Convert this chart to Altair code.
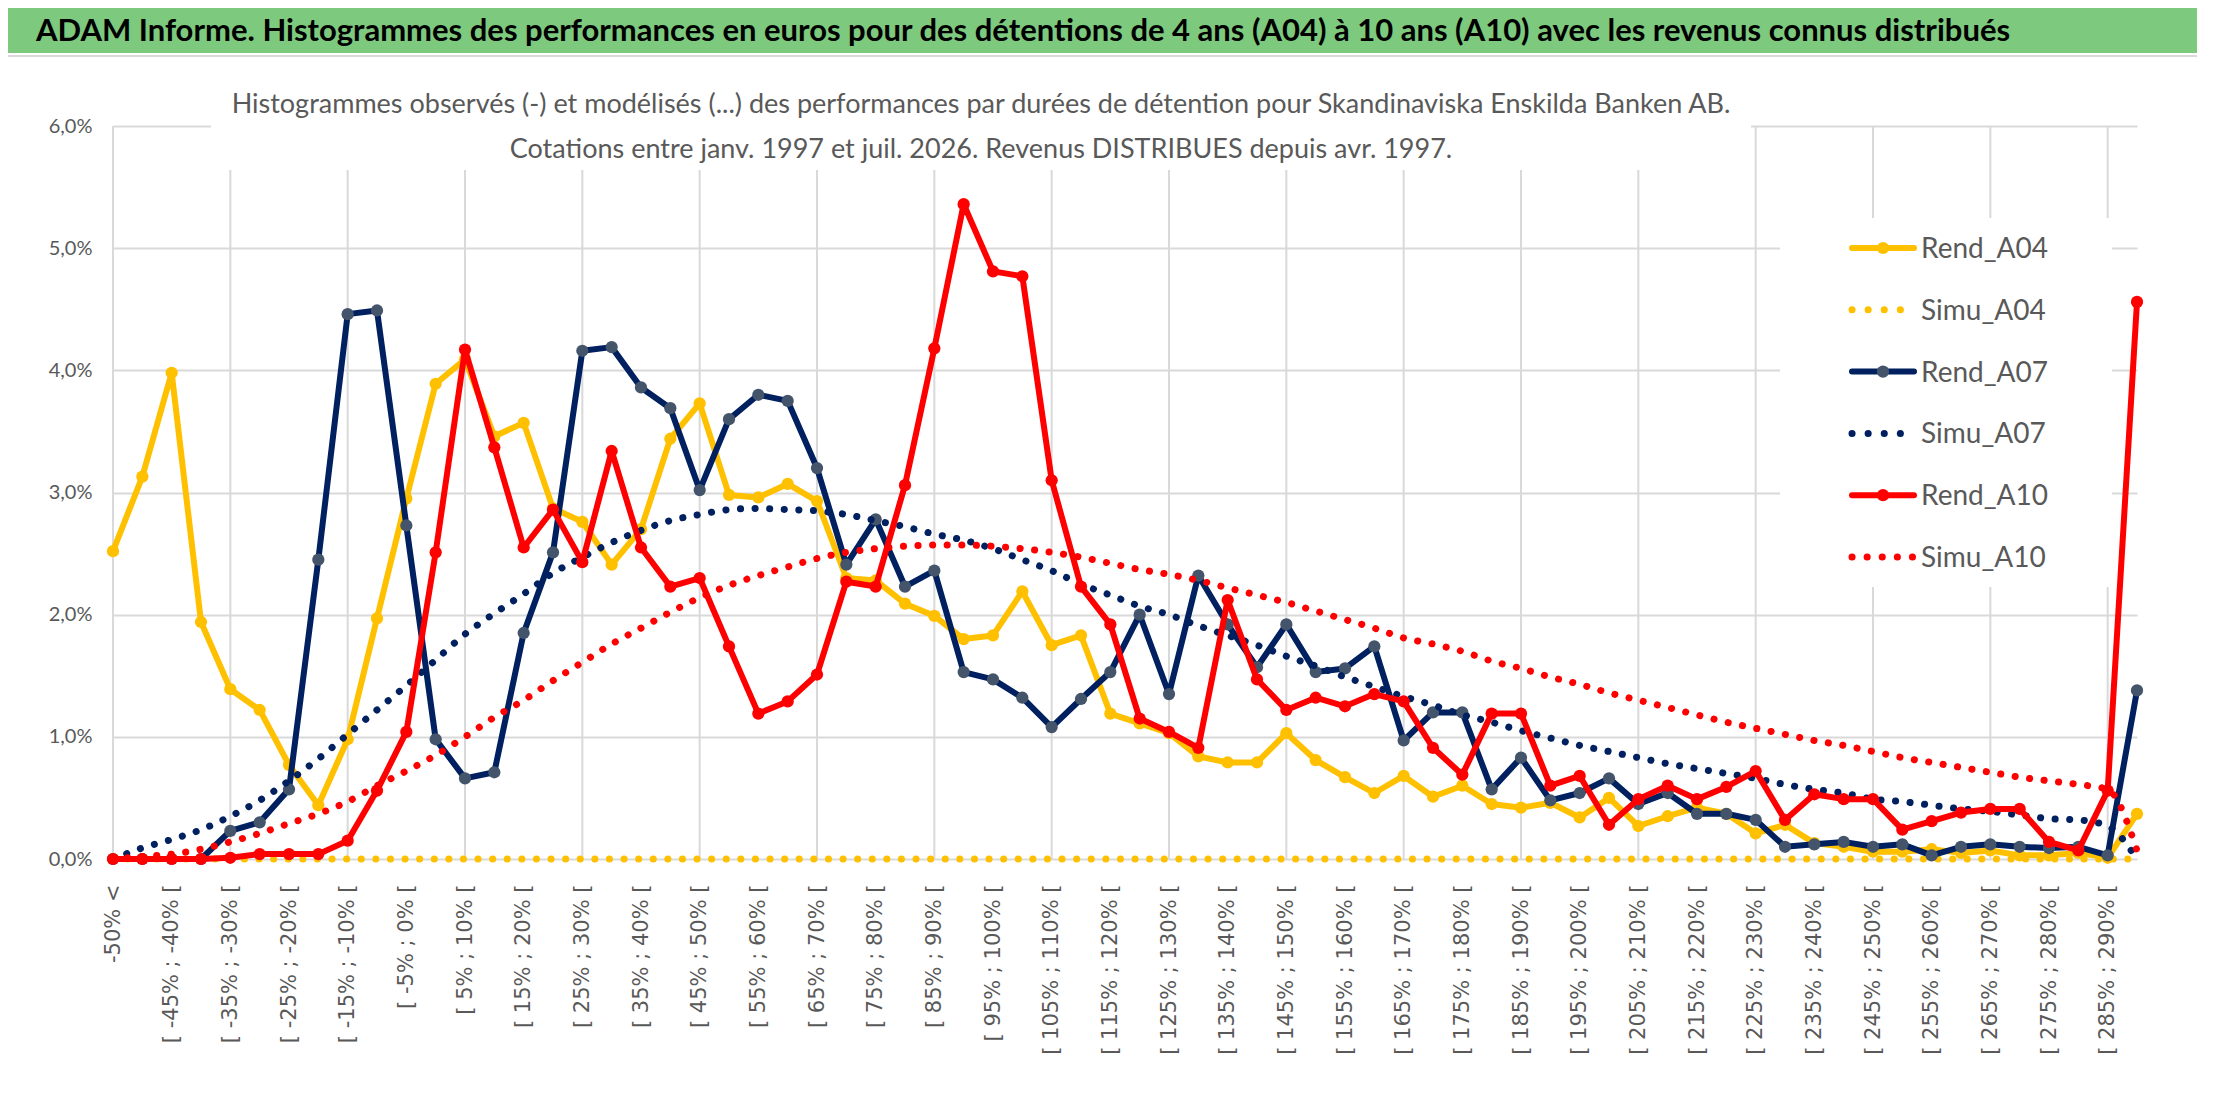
import altair as alt
import pandas as pd

# Categories (5 % bins), only every second label is shown on the axis
categories = ["-50% <"] + [f"[ {lo}% ; {lo + 5}% [" for lo in range(-50, 290, 5)] + ["290% >="]
label_values = categories[::2]
grid_values = categories[::4]
y_ticks = [0, 1, 2, 3, 4, 5, 6]

series_names = ["Rend_A04", "Simu_A04", "Rend_A07", "Simu_A07", "Rend_A10", "Simu_A10"]

# values in %
rend_a04 = [2.52, 3.13, 3.98, 1.94, 1.39, 1.22, 0.77, 0.44, 0.98, 1.97,
            2.95, 3.89, 4.09, 3.46, 3.57, 2.87, 2.76, 2.41, 2.70, 3.44,
            3.73, 2.98, 2.96, 3.07, 2.93, 2.30, 2.28, 2.09, 1.99, 1.80,
            1.83, 2.19, 1.75, 1.83, 1.19, 1.11, 1.03, 0.84, 0.79, 0.79,
            1.03, 0.81, 0.67, 0.54, 0.68, 0.51, 0.60, 0.45, 0.42, 0.46,
            0.34, 0.50, 0.27, 0.35, 0.42, 0.37, 0.21, 0.28, 0.13, 0.10,
            0.06, 0.06, 0.08, 0.05, 0.07, 0.03, 0.03, 0.05, 0.01, 0.37]
simu_a04 = [0.0] * 70  # flat at zero on the whole range
rend_a07 = [0.00, 0.00, 0.00, 0.00, 0.23, 0.30, 0.57, 2.45, 4.46, 4.49,
            2.73, 0.98, 0.66, 0.71, 1.85, 2.51, 4.16, 4.19, 3.86, 3.69,
            3.02, 3.60, 3.80, 3.75, 3.20, 2.41, 2.78, 2.23, 2.36, 1.53,
            1.47, 1.32, 1.08, 1.31, 1.53, 2.00, 1.35, 2.32, 1.92, 1.57,
            1.92, 1.53, 1.56, 1.74, 0.97, 1.20, 1.20, 0.57, 0.83, 0.48,
            0.54, 0.66, 0.45, 0.54, 0.37, 0.37, 0.32, 0.10, 0.12, 0.14,
            0.10, 0.12, 0.03, 0.10, 0.12, 0.10, 0.09, 0.10, 0.03, 1.38]
simu_a07 = [0.00, 0.09, 0.16, 0.24, 0.35, 0.48, 0.64, 0.82, 1.02, 1.22,
            1.42, 1.63, 1.84, 2.01, 2.17, 2.34, 2.47, 2.59, 2.69, 2.77,
            2.82, 2.86, 2.87, 2.86, 2.85, 2.82, 2.77, 2.72, 2.66, 2.61,
            2.54, 2.45, 2.36, 2.25, 2.16, 2.07, 2.00, 1.91, 1.83, 1.75,
            1.66, 1.58, 1.49, 1.41, 1.33, 1.26, 1.18, 1.12, 1.05, 0.99,
            0.93, 0.88, 0.83, 0.78, 0.74, 0.70, 0.66, 0.61, 0.57, 0.54,
            0.49, 0.47, 0.44, 0.41, 0.39, 0.36, 0.33, 0.32, 0.27, 0.00]
rend_a10 = [0.00, 0.00, 0.00, 0.00, 0.01, 0.04, 0.04, 0.04, 0.15, 0.56,
            1.04, 2.51, 4.17, 3.37, 2.55, 2.86, 2.43, 3.34, 2.55, 2.23,
            2.30, 1.74, 1.19, 1.29, 1.51, 2.27, 2.23, 3.06, 4.18, 5.36,
            4.81, 4.77, 3.10, 2.23, 1.92, 1.15, 1.04, 0.91, 2.12, 1.47,
            1.22, 1.32, 1.25, 1.35, 1.29, 0.91, 0.69, 1.19, 1.19, 0.60,
            0.68, 0.28, 0.49, 0.60, 0.49, 0.59, 0.72, 0.32, 0.53, 0.49,
            0.49, 0.24, 0.31, 0.38, 0.41, 0.41, 0.14, 0.07, 0.56, 4.56]
simu_a10 = [0.00, 0.02, 0.04, 0.08, 0.14, 0.21, 0.29, 0.37, 0.47, 0.60,
            0.72, 0.85, 1.00, 1.16, 1.30, 1.46, 1.61, 1.76, 1.89, 2.02,
            2.14, 2.24, 2.32, 2.39, 2.46, 2.51, 2.54, 2.56, 2.57, 2.57,
            2.56, 2.54, 2.51, 2.47, 2.42, 2.37, 2.33, 2.28, 2.22, 2.16,
            2.10, 2.03, 1.96, 1.89, 1.81, 1.76, 1.70, 1.62, 1.56, 1.49,
            1.43, 1.36, 1.30, 1.24, 1.18, 1.12, 1.07, 1.02, 0.97, 0.93,
            0.88, 0.83, 0.79, 0.75, 0.71, 0.67, 0.64, 0.61, 0.57, 0.07]

series_values = [rend_a04, simu_a04, rend_a07, simu_a07, rend_a10, simu_a10]
line_colors = ["#FFC000", "#FFC000", "#002060", "#002060", "#FF0000", "#FF0000"]
marker_colors = ["#FFC000", None, "#44546A", None, "#FF0000", None]

main_title = ("ADAM Informe. Histogrammes des performances en euros pour des détentions "
              "de 4 ans (A04) à 10 ans (A10) avec les revenus connus distribués")
chart_title = ["Histogrammes observés (-) et modélisés (...) des performances par durées "
               "de détention pour Skandinaviska Enskilda Banken AB.",
               "Cotations entre janv. 1997 et juil. 2026. Revenus DISTRIBUES depuis avr. 1997."]

NARROW = "Lato, 'Liberation Sans Narrow', sans-serif"
GREY = "#595959"
GRID = "#D9D9D9"

# mise en forme longue
rows = []
for name, vals in zip(series_names, series_values):
    for i, (c, v) in enumerate(zip(categories, vals)):
        rows.append({"series": name, "cat": c, "idx": i, "value": v})
df = pd.DataFrame(rows)

x_enc = alt.X("cat:N", title=None,
              scale=alt.Scale(type="point", domain=categories, padding=0),
              axis=alt.Axis(values=label_values, labelAngle=270, labelFont="DejaVu Sans",
                            labelFontSize=21, labelColor=GREY, labelPadding=25,
                            labelLimit=400, labelOverlap=False, ticks=False,
                            domain=False, grid=False))
y_enc = alt.Y("value:Q", title=None,
              scale=alt.Scale(domain=[0, 6], nice=False),
              axis=alt.Axis(values=y_ticks, labelExpr="replace(format(datum.value, '.1f'), '.', ',') + '%'",
                            labelFont=NARROW, labelFontSize=20, labelColor=GREY,
                            labelPadding=21, ticks=False, domain=False,
                            grid=True, gridColor=GRID, gridWidth=2))

one = pd.DataFrame({"k": [0]})


def box(x0, x1, y0, y1, color):
    return alt.Chart(one).mark_rect(color=color).encode(
        x=alt.value(x0), x2=alt.value(x1), y=alt.value(y0), y2=alt.value(y1))


def txt(text, x, y, size, color, weight="normal", align="left", baseline="alphabetic"):
    return alt.Chart(one).mark_text(text=text, align=align, baseline=baseline, font=NARROW,
                                    fontSize=size, color=color, fontWeight=weight).encode(
        x=alt.value(x), y=alt.value(y))


layers = []
# vertical gridlines every 4 categories
layers.append(alt.Chart(pd.DataFrame({"cat": grid_values})).mark_rule(
    color=GRID, strokeWidth=2).encode(x=x_enc))
# green header band and chart title / legend backgrounds
layers.append(box(-105, 2095, -118, -73, "#7DC97E"))
layers.append(alt.Chart(one).mark_rule(color=GRID, strokeWidth=2).encode(
    x=alt.value(-105), x2=alt.value(2095), y=alt.value(-70)))
layers.append(box(98, 1638, -60, 44, "white"))
layers.append(box(1667, 1999, 92, 461, "white"))

# data series
for name, lc, mc in zip(series_names, line_colors, marker_colors):
    base = alt.Chart(df).transform_filter(alt.datum.series == name)
    if mc is None:
        layers.append(base.mark_line(color=lc, strokeWidth=7, strokeDash=[0.1, 14.5],
                                     strokeCap="round", interpolate="monotone").encode(
            x=x_enc, y=y_enc, order="idx:Q"))
    else:
        layers.append(base.mark_line(color=lc, strokeWidth=6, strokeJoin="round").encode(
            x=x_enc, y=y_enc, order="idx:Q"))
        layers.append(base.mark_circle(color=mc, size=150, opacity=1).encode(x=x_enc, y=y_enc))

# legend (custom, to get lines with markers / dotted symbols)
for k, (name, lc, mc) in enumerate(zip(series_names, line_colors, marker_colors)):
    yk = 122 + 61.8 * k
    if mc is None:
        gap = 15 if name == "Simu_A10" else 16
        x_end = 1800 if name == "Simu_A10" else 1788
        layers.append(alt.Chart(one).mark_rule(color=lc, strokeWidth=7, strokeDash=[0.1, gap],
                                               strokeCap="round").encode(
            x=alt.value(1739), x2=alt.value(x_end), y=alt.value(yk)))
    else:
        layers.append(alt.Chart(one).mark_rule(color=lc, strokeWidth=6, strokeCap="round").encode(
            x=alt.value(1739), x2=alt.value(1801), y=alt.value(yk)))
        layers.append(alt.Chart(one).mark_circle(color=mc, size=150, opacity=1).encode(
            x=alt.value(1770), y=alt.value(yk)))
    layers.append(txt(name, 1808, yk + 10, 28, GREY))

# titles
layers.append(txt(main_title, -77, -85, 31, "black", weight="bold"))
layers.append(txt(chart_title[0], 868, -13, 27, GREY, align="center"))
layers.append(txt(chart_title[1], 868, 32, 27, GREY, align="center"))

chart = alt.layer(*layers).properties(
    width=2024, height=733,
    autosize=alt.AutoSizeParams(type="none"),
    padding={"left": 105, "top": 118, "right": 60, "bottom": 225},
    background="white",
).configure_view(stroke=None)

chart.save("out.html", embed_options={"renderer": "svg", "actions": False})
